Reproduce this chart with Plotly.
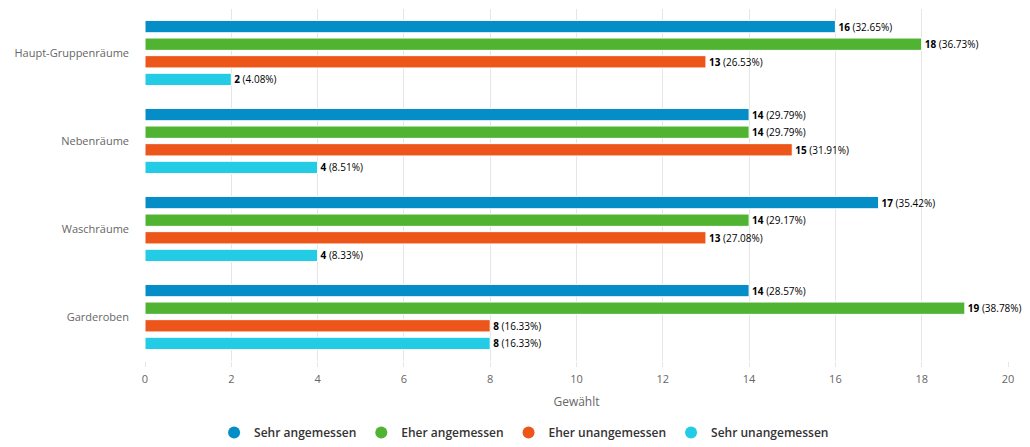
import plotly.graph_objects as go

categories = ["Haupt-Gruppenräume", "Nebenräume", "Waschräume", "Garderoben"]
series_names = ["Sehr angemessen", "Eher angemessen", "Eher unangemessen", "Sehr unangemessen"]
sehr_angemessen = [16, 14, 17, 14]
eher_angemessen = [18, 14, 14, 19]
eher_unangemessen = [13, 15, 13, 8]
sehr_unangemessen = [2, 4, 4, 8]
colors = ["#058DC7", "#50B432", "#ED561B", "#24CBE5"]
x_ticks = [0, 2, 4, 6, 8, 10, 12, 14, 16, 18, 20]

all_series = [sehr_angemessen, eher_angemessen, eher_unangemessen, sehr_unangemessen]
totals = [sum(s[i] for s in all_series) for i in range(len(categories))]

fig = go.Figure()
for name, vals, col in zip(series_names, all_series, colors):
    texts = [f"<b>{v}</b> ({v / t * 100:.2f}%)" for v, t in zip(vals, totals)]
    fig.add_trace(go.Bar(
        y=categories, x=vals, orientation="h", name=name,
        marker=dict(color=col, line=dict(color="white", width=1)),
        text=texts, textposition="outside", cliponaxis=False, constraintext="none",
        textfont=dict(size=10, color="#000000", family="Open Sans"),
        showlegend=False, hoverinfo="x+y",
    ))
    fig.add_trace(go.Scatter(
        x=[None], y=[None], mode="markers", name=name,
        marker=dict(color=col, size=12, symbol="circle"),
        showlegend=True,
    ))

# page body has an 8px margin; figure is sized to fill the remaining window
fig.update_layout(
    width=1022, height=439,
    margin=dict(l=137, r=22, t=1, b=86, autoexpand=False),
    barmode="group", bargap=0.2, bargroupgap=0.3,
    plot_bgcolor="white", paper_bgcolor="white",
    font=dict(family="Open Sans", size=11, color="#666666"),
    xaxis=dict(
        range=[0, 20], tickvals=x_ticks, showgrid=True, gridcolor="#e6e6e6", gridwidth=1,
        zeroline=False, ticks="outside", ticklen=5, tickcolor="#e6e6e6",
        tickfont=dict(size=11, color="#666666"), automargin=False, ticklabelstandoff=3,
        title=dict(text="Gewählt", font=dict(size=12, color="#666666"), standoff=12),
        showline=False,
    ),
    yaxis=dict(
        autorange="reversed", showgrid=False, zeroline=False, showline=False,
        ticks="", ticklabelstandoff=15, automargin=False,
        tickfont=dict(size=11, color="#666666"),
    ),
    legend=dict(
        orientation="h", xref="container", yref="container",
        x=0.505, xanchor="center", y=0.0, yanchor="bottom",
        font=dict(size=12, color="#333333", family="Open Sans", weight=600),
        itemsizing="trace",
    ),
)

fig.write_html("out.html")
